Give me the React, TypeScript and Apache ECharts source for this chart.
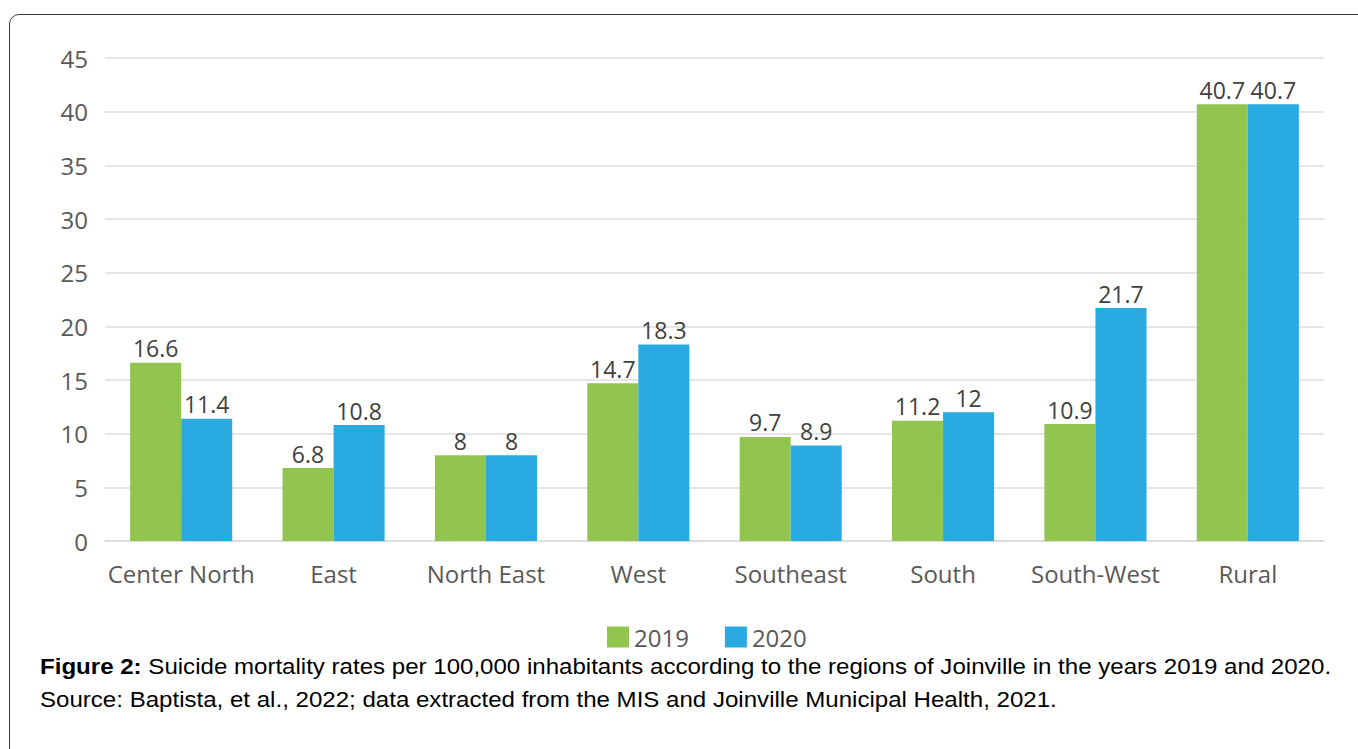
import React, { useEffect, useRef } from "react";
import * as echarts from "echarts";

const categories = ["Center North", "East", "North East", "West", "Southeast", "South", "South-West", "Rural"];
const values2019 = [16.6, 6.8, 8, 14.7, 9.7, 11.2, 10.9, 40.7];
const values2020 = [11.4, 10.8, 8, 18.3, 8.9, 12, 21.7, 40.7];
const seriesNames = ["2019", "2020"];
const captionBold = "Figure 2:";
const captionLine1 = " Suicide mortality rates per 100,000 inhabitants according to the regions of Joinville in the years 2019 and 2020.";
const captionLine2 = "Source: Baptista, et al., 2022; data extracted from the MIS and Joinville Municipal Health, 2021.";

const FONT = "'Open Sans', 'Noto Sans', sans-serif";

export default function App() {
  const ref = useRef<HTMLDivElement>(null);
  useEffect(() => {
    if (!ref.current) return;
    const chart = echarts.init(ref.current, undefined, { renderer: "svg" });
    const label = {
      show: true,
      position: "top" as const,
      distance: 3,
      fontFamily: FONT,
      fontSize: 23,
      color: "#404040",
    };
    chart.setOption({
      animation: false,
      textStyle: { fontFamily: FONT },
      grid: { left: 105, right: 34, top: 58, bottom: 208 },
      legend: {
        data: seriesNames,
        top: 620,
        left: 602,
        itemWidth: 22,
        itemHeight: 21,
        itemGap: 36,
        icon: "rect",
        textStyle: { fontFamily: FONT, fontSize: 24, color: "#595959" },
      },
      xAxis: {
        type: "category",
        data: categories,
        axisLine: { lineStyle: { color: "#d9d9d9", width: 1.5 } },
        axisTick: { show: false },
        axisLabel: { interval: 0, fontFamily: FONT, fontSize: 24, color: "#595959", margin: 20 },
      },
      yAxis: {
        type: "value",
        min: 0,
        max: 45,
        interval: 5,
        axisLine: { show: false },
        axisTick: { show: false },
        splitLine: { lineStyle: { color: "#dcdcdc", width: 1.5 } },
        axisLabel: { fontFamily: FONT, fontSize: 24, color: "#595959", margin: 17 },
      },
      series: [
        {
          name: seriesNames[0],
          type: "bar",
          data: values2019,
          barGap: "0%",
          barCategoryGap: "33%",
          itemStyle: { color: "#92C550" },
          label,
        },
        {
          name: seriesNames[1],
          type: "bar",
          data: values2020,
          barGap: "0%",
          barCategoryGap: "33%",
          itemStyle: { color: "#29AAE1" },
          label,
        },
      ],
    });
    return () => chart.dispose();
  }, []);

  return (
    <div style={{ position: "fixed", left: 0, top: 0, width: 1358, height: 749, overflow: "hidden", background: "#fff" }}>
      <div
        style={{
          position: "absolute",
          left: 9,
          top: 14,
          width: 1370,
          height: 780,
          border: "1.5px solid #3a3a3a",
          borderRadius: 10,
          boxSizing: "border-box",
        }}
      />
      <div ref={ref} style={{ position: "absolute", left: 0, top: 0, width: 1358, height: 749 }} />
      <div
        style={{
          position: "absolute",
          left: 40,
          top: 650,
          fontFamily: "'Liberation Sans', Arial, sans-serif",
          fontSize: 22,
          lineHeight: "33px",
          color: "#000",
          whiteSpace: "nowrap",
          transform: "scaleX(1.094)",
          transformOrigin: "left top",
        }}
      >
        <div>
          <b>{captionBold}</b>
          {captionLine1}
        </div>
        <div>{captionLine2}</div>
      </div>
    </div>
  );
}
